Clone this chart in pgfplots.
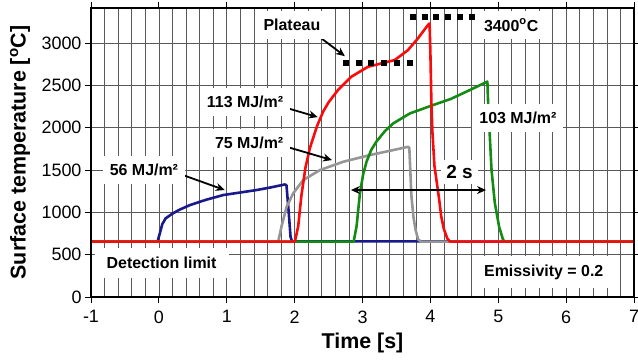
\documentclass[border=0pt]{standalone}
\usepackage{fontspec}
\setmainfont{Liberation Sans}
\usepackage{pgfplots}
\pgfplotsset{compat=1.18}
\usetikzlibrary{arrows.meta}
\definecolor{cblue}{RGB}{25,25,140}
\definecolor{cred}{RGB}{250,10,10}
\definecolor{cgreen}{RGB}{20,140,20}
\definecolor{cgray}{RGB}{150,150,150}
\tikzset{
  lbl/.style={font=\bfseries\fontsize{16}{16}\selectfont, fill=white, inner xsep=7bp, inner ysep=8bp},
  arr/.style={line width=1.8bp, -{Stealth[length=9bp,width=8bp]}},
}
\begin{document}
\begin{tikzpicture}
\useasboundingbox (-91bp,-64bp) rectangle (547bp,297bp);
\begin{axis}[
  at={(0,0)}, anchor=south west,
  width=543bp, height=289bp, scale only axis,
  xmin=-1, xmax=7, ymin=0, ymax=3415,
  xtick={-1,0,1,2,3,4,5,6,7}, ytick={0,500,1000,1500,2000,2500,3000},
  xticklabels={-1,0,1,2,3,4,5,6,7},
  yticklabels={0,500,1000,1500,2000,2500,3000},
  minor x tick num=4,
  grid=both,
  grid style={black!65, line width=0.7bp},
  minor grid style={black!65, line width=0.7bp},
  axis line style={black, line width=1.2bp},
  tick align=outside,
  major tick length=6bp, minor tick length=0pt,
  tick style={black, line width=0.8bp},
  ticklabel style={font=\fontsize{18}{18}\selectfont},
  xticklabel style={yshift=-4bp},
  xlabel={Time [s]},
  ylabel={Surface temperature [\textsuperscript{o}C]},
  label style={font=\bfseries\fontsize{21.5}{21.5}\selectfont},
  xlabel style={at={(axis description cs:0.5,0)}, anchor=center, yshift=-46bp},
  ylabel style={at={(axis description cs:-0.1308,0.5)}, anchor=center},
  clip=false,
  every axis plot/.append style={line width=2.6bp, line join=round},
]
% 56 MJ/m2
\addplot[cblue] coordinates {(-1,655) (-0.02,655) (0.01,740) (0.05,860) (0.1,930) (0.2,985) (0.3,1030) (0.46,1087) (0.7,1150) (0.95,1205) (1.2,1235) (1.44,1264) (1.65,1295) (1.857,1330) (1.88,1320) (1.91,1030) (1.94,712) (1.96,658) (7,655)};
% 75 MJ/m2
\addplot[cgray] coordinates {(-1,655) (1.758,655) (1.808,837) (1.882,1066) (1.979,1225) (2.127,1382) (2.373,1500) (2.716,1598) (3.109,1677) (3.452,1736) (3.673,1775) (3.69,1760) (3.72,1200) (3.75,950) (3.78,800) (3.82,680) (3.86,655) (7,655)};
% 103 MJ/m2
\addplot[cgreen] coordinates {(-1,655) (2.87,655) (2.913,837) (2.962,1225) (3.01,1450) (3.06,1600) (3.13,1740) (3.208,1840) (3.33,1960) (3.452,2051) (3.698,2169) (4.04,2268) (4.3,2340) (4.58,2445) (4.84,2545) (4.851,2288) (4.876,1893) (4.901,1500) (4.95,1107) (5.013,830) (5.072,673) (5.1,655) (7,655)};
% 113 MJ/m2
\addplot[cred] coordinates {(-1,655) (2.004,655) (2.053,837) (2.1,1200) (2.16,1530) (2.225,1760) (2.33,2020) (2.42,2190) (2.5,2300) (2.638,2445) (2.834,2602) (3.08,2720) (3.275,2760) (3.473,2799) (3.669,2917) (3.816,3055) (3.963,3212) (3.988,3232) (4.0,2900) (4.015,2300) (4.03,1950) (4.06,1550) (4.09,1380) (4.13,1150) (4.16,950) (4.2,800) (4.25,690) (4.29,655) (7,655)};
% dotted levels
\draw[line width=6bp, dash pattern=on 6bp off 6.8bp] (axis cs:2.711,2764) -- (axis cs:3.742,2764);
\draw[line width=6bp, dash pattern=on 6bp off 5.8bp] (axis cs:3.698,3307) -- (axis cs:4.655,3307);
% arrows
\draw[arr] (axis cs:2.39,3059) -- (axis cs:2.74,2846);
\draw[arr] (axis cs:1.89,2232) -- (axis cs:2.34,2126);
\draw[arr] (axis cs:1.90,1771) -- (axis cs:2.55,1618);
\draw[arr] (axis cs:0.355,1441) -- (axis cs:0.97,1264);
\draw[line width=1.8bp, {Stealth[length=9bp,width=8bp]}-{Stealth[length=9bp,width=8bp]}] (axis cs:2.83,1264) -- (axis cs:4.82,1264);
% labels
\node[lbl] at (axis cs:1.96,3212) {Plateau};
\node[lbl] at (axis cs:5.19,3212) {3400\textsuperscript{o}C};
\node[lbl] at (axis cs:1.27,2303) {113 MJ/m²};
\node[lbl] at (axis cs:1.33,1819) {75 MJ/m²};
\node[lbl] at (axis cs:-0.22,1500) {56 MJ/m²};
\node[lbl] at (axis cs:5.29,2114) {103 MJ/m²};
\node[lbl, font=\bfseries\fontsize{19}{19}\selectfont, inner xsep=5bp, inner ysep=5bp] at (axis cs:4.43,1476) {2 s};
\node[lbl, inner xsep=12bp, inner ysep=9bp] at (axis cs:0.04,402) {Detection limit};
\node[lbl, inner xsep=12bp, inner ysep=9bp] at (axis cs:5.67,295) {Emissivity = 0.2};
\draw[black, line width=1.2bp] (rel axis cs:0,0) rectangle (rel axis cs:1,1);
\end{axis}
\end{tikzpicture}
\end{document}
